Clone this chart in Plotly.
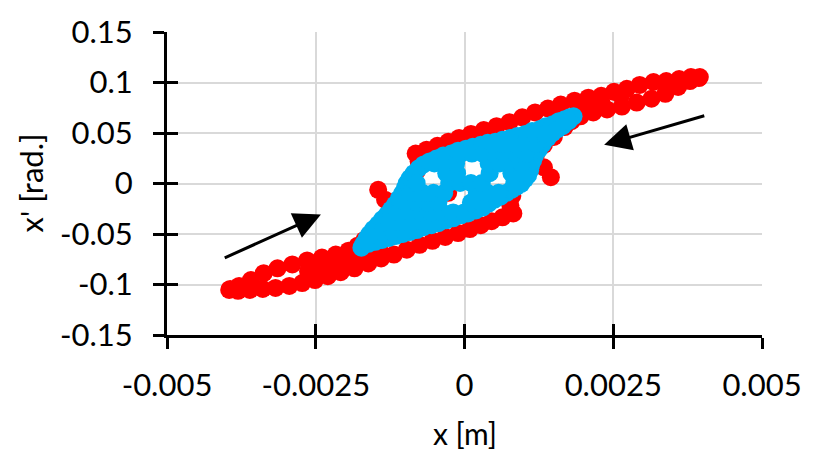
import plotly.graph_objects as go

# ---- data ----
# red trajectory: upper side (left tip -> right tip), lower side (left tip -> right tip),
# then band fill points and stray points
red_x = [
    -0.003955, -0.003789, -0.003590, -0.003375, -0.003143, -0.002894, -0.002645, -0.002396,
    -0.002164, -0.001949, -0.001799, -0.001683, -0.001501, -0.001335, -0.001202, -0.001070,
    -0.000970, -0.000887, -0.000804, -0.000771, -0.000821, -0.000638, -0.000456, -0.000274,
    -0.000091, 0.000108, 0.000323, 0.000539, 0.000755, 0.000970, 0.001186, 0.001401,
    0.001617, 0.001849, 0.002081, 0.002297, 0.002512, 0.002728, 0.002944, 0.003176,
    0.003391, 0.003607, 0.003806, 0.003939,
    -0.003939, -0.003806, -0.003607, -0.003391, -0.003176, -0.002944, -0.002728, -0.002512,
    -0.002297, -0.002081, -0.001849, -0.001617, -0.001401, -0.001186, -0.000970, -0.000755,
    -0.000539, -0.000323, -0.000108, 0.000091, 0.000274, 0.000456, 0.000638, 0.000821,
    0.000771, 0.000804, 0.000887, 0.000970, 0.001070, 0.001202, 0.001335, 0.001501,
    0.001683, 0.001799, 0.001949, 0.002164, 0.002396, 0.002645, 0.002894, 0.003143,
    0.003375, 0.003590, 0.003789, 0.003955,
    -0.002629, -0.002297, -0.001965, -0.001600, -0.002463, -0.002131, -0.001799, -0.001434,
    0.002629, 0.002297, 0.001965, 0.001600,
    -0.001451, -0.001335, 0.001451, 0.001335, -0.000274,
]
red_y = [
    -0.10534, -0.10146, -0.09563, -0.08883, -0.08398, -0.08010, -0.07621, -0.07330,
    -0.07039, -0.06650, -0.06165, -0.05583, -0.04612, -0.03835, -0.02864, -0.01893,
    -0.00922, 0.00049, 0.01214, 0.02184, 0.02961, 0.03350, 0.03738, 0.04126,
    0.04515, 0.04903, 0.05291, 0.05680, 0.06068, 0.06553, 0.07039, 0.07427,
    0.07816, 0.08204, 0.08495, 0.08689, 0.09078, 0.09369, 0.09757, 0.10049,
    0.10146, 0.10340, 0.10534, 0.10437,
    -0.10437, -0.10631, -0.10534, -0.10437, -0.10340, -0.10146, -0.09854, -0.09563,
    -0.09175, -0.08786, -0.08398, -0.07913, -0.07427, -0.07039, -0.06553, -0.06068,
    -0.05680, -0.05291, -0.04903, -0.04515, -0.04126, -0.03738, -0.03350, -0.02961,
    -0.02184, -0.01214, -0.00049, 0.00922, 0.01893, 0.02864, 0.03835, 0.04612,
    0.05583, 0.06165, 0.06650, 0.07039, 0.07330, 0.07621, 0.08010, 0.08398,
    0.08883, 0.09563, 0.10146, 0.10534,
    -0.08689, -0.08204, -0.07621, -0.06748, -0.08495, -0.07913, -0.07330, -0.06456,
    0.08689, 0.08204, 0.07621, 0.06748,
    -0.00631, -0.01602, 0.00631, 0.01602, -0.00922,
]

# blue trajectory: upper edge, lower edge, interior
blue_x = [
    -0.001733, -0.001700, -0.001650, -0.001600, -0.001534, -0.001451, -0.001385, -0.001302,
    -0.001236, -0.001169, -0.001103, -0.001053, -0.001003, -0.000970, -0.000920, -0.000854,
    -0.000771, -0.000688, -0.000589, -0.000473, -0.000357, -0.000224, -0.000108, 0.000025,
    0.000141, 0.000274, 0.000390, 0.000522, 0.000638, 0.000771, 0.000887, 0.001020,
    0.001136, 0.001269, 0.001368, 0.001484, 0.001584, 0.001683, 0.001766, 0.001833,
    -0.001617, -0.001501, -0.001385, -0.001269, -0.001153, -0.001036, -0.000920, -0.000804,
    -0.000688, -0.000556, -0.000439, -0.000307, -0.000191, -0.000058, 0.000058, 0.000191,
    0.000307, 0.000406, 0.000506, 0.000605, 0.000705, 0.000788, 0.000871, 0.000954,
    0.001020, 0.001070, 0.001103, 0.001119, 0.001153, 0.001186, 0.001252, 0.001318,
    0.001401, 0.001484, 0.001567, 0.001650, 0.001750,
    -0.001385, -0.001202, -0.001020,
    -0.001252, -0.001070, -0.000887, -0.000705, -0.000522,
    -0.001103, -0.000920, -0.000738, -0.000556, -0.000373, -0.000191, -0.000008,
    -0.000987, -0.000804, -0.000622, -0.000439, 0.000108, 0.000290,
    -0.000887, -0.000705, -0.000522, -0.000340, 0.000207, 0.000390, 0.000572,
    -0.000804, -0.000257, -0.000075, 0.000108, 0.000290, 0.000837,
    -0.000307, -0.000124, 0.000423, 0.000788, 0.000970,
    -0.000506, -0.000323, -0.000141, 0.000406, 0.000589, 0.000771, 0.000954,
    -0.000058, 0.000124, 0.000307, 0.000489, 0.000672, 0.000854, 0.001036,
    0.000473, 0.000655, 0.000837, 0.001020, 0.001202,
    0.001186, 0.001352,
]
blue_y = [
    -0.06359, -0.05971, -0.05485, -0.05000, -0.04515, -0.04029, -0.03544, -0.03058,
    -0.02573, -0.02087, -0.01505, -0.01019, -0.00437, 0.00049, 0.00534, 0.01019,
    0.01505, 0.01893, 0.02184, 0.02476, 0.02767, 0.02961, 0.03252, 0.03447,
    0.03641, 0.03835, 0.04029, 0.04126, 0.04320, 0.04515, 0.04709, 0.04903,
    0.05194, 0.05388, 0.05680, 0.05874, 0.06165, 0.06359, 0.06553, 0.06650,
    -0.05971, -0.05777, -0.05583, -0.05388, -0.05194, -0.05000, -0.04806, -0.04612,
    -0.04320, -0.04126, -0.03932, -0.03641, -0.03447, -0.03155, -0.02961, -0.02670,
    -0.02379, -0.01990, -0.01602, -0.01311, -0.00922, -0.00631, -0.00340, -0.00049,
    0.00437, 0.00825, 0.01311, 0.01796, 0.02282, 0.02767, 0.03350, 0.03932,
    0.04515, 0.05000, 0.05388, 0.05680, 0.06165,
    -0.04806, -0.04806, -0.04806,
    -0.03835, -0.03835, -0.03835, -0.03835, -0.03835,
    -0.02864, -0.02864, -0.02864, -0.02864, -0.02864, -0.02864, -0.02864,
    -0.01893, -0.01893, -0.01893, -0.01893, -0.01893, -0.01893,
    -0.00922, -0.00922, -0.00922, -0.00922, -0.00922, -0.00922, -0.00922,
    0.00049, 0.00049, 0.00049, 0.00049, 0.00049, 0.00049,
    0.01019, 0.01019, 0.01019, 0.01019, 0.01019,
    0.01990, 0.01990, 0.01990, 0.01990, 0.01990, 0.01990, 0.01990,
    0.02961, 0.02961, 0.02961, 0.02961, 0.02961, 0.02961, 0.02961,
    0.03932, 0.03932, 0.03932, 0.03932, 0.03932,
    0.04903, 0.04903,
]

arrow_tail_x = [-0.004055, 0.004055]
arrow_tail_y = [-0.0743, 0.0675]
arrow_head_x = [-0.002413, 0.002347]
arrow_head_y = [-0.0306, 0.0383]

x_ticks = [-0.005, -0.0025, 0, 0.0025, 0.005]
x_tick_labels = ["-0.005", "-0.0025", "0", "0.0025", "0.005"]
y_ticks = [-0.15, -0.1, -0.05, 0, 0.05, 0.1, 0.15]
y_tick_labels = ["-0.15", "-0.1", "-0.05", "0", "0.05", "0.1", "0.15"]
x_range = [-0.005, 0.005]
y_range = [-0.15, 0.15]

FONT = "Lato"
FS = 31

fig = go.Figure()
fig.add_trace(go.Scatter(x=red_x, y=red_y, mode="markers",
                         marker=dict(color="#FF0000", size=18, line=dict(width=0)),
                         showlegend=False, hoverinfo="skip"))
fig.add_trace(go.Scatter(x=blue_x, y=blue_y, mode="markers",
                         marker=dict(color="#00B0F0", size=18, line=dict(width=0)),
                         showlegend=False, hoverinfo="skip"))
fig.add_trace(go.Scatter(x=[None], y=[None], xaxis="x2", yaxis="y2",
                         showlegend=False, hoverinfo="skip"))

for tx, ty, hx, hy in zip(arrow_tail_x, arrow_tail_y, arrow_head_x, arrow_head_y):
    fig.add_annotation(x=hx, y=hy, ax=tx, ay=ty, xref="x", yref="y",
                       axref="x", ayref="y", text="", showarrow=True,
                       arrowhead=2, arrowsize=1.8, arrowwidth=3, arrowcolor="black")

fig.add_annotation(text="x' [rad.]", xref="paper", yref="paper", x=0, y=0.5,
                   xanchor="center", yanchor="middle", xshift=-137, textangle=-90,
                   showarrow=False, font=dict(family=FONT, size=FS, color="black"))
fig.add_annotation(text="x [m]", xref="paper", yref="paper", x=0.5, y=0,
                   xanchor="center", yanchor="middle", yshift=-98,
                   showarrow=False, font=dict(family=FONT, size=30, color="black"))

axis_common = dict(showline=True, linewidth=3, linecolor="black", zeroline=False,
                   ticks="outside", ticklen=11, tickwidth=3, tickcolor="black",
                   showgrid=True, gridcolor="#D9D9D9", gridwidth=1.5,
                   tickfont=dict(family=FONT, size=FS, color="black"))

fig.update_layout(
    width=814, height=453,
    margin=dict(l=167, r=44, t=26, b=118),
    paper_bgcolor="white", plot_bgcolor="white",
    xaxis=dict(range=x_range, tickvals=x_ticks, ticktext=x_tick_labels,
               ticklabelstandoff=10, **axis_common),
    yaxis=dict(range=y_range, tickvals=y_ticks, ticktext=y_tick_labels,
               ticklabelstandoff=14, **axis_common),
    xaxis2=dict(overlaying="x", anchor="y2", range=x_range, tickvals=x_ticks,
                ticks="inside", ticklen=11, tickwidth=3, tickcolor="black",
                showticklabels=False, showgrid=False, zeroline=False, showline=False),
    yaxis2=dict(overlaying="y", anchor="x2", range=y_range, tickvals=y_ticks,
                ticks="inside", ticklen=11, tickwidth=3, tickcolor="black",
                showticklabels=False, showgrid=False, zeroline=False, showline=False),
)

fig.write_html("out.html")
